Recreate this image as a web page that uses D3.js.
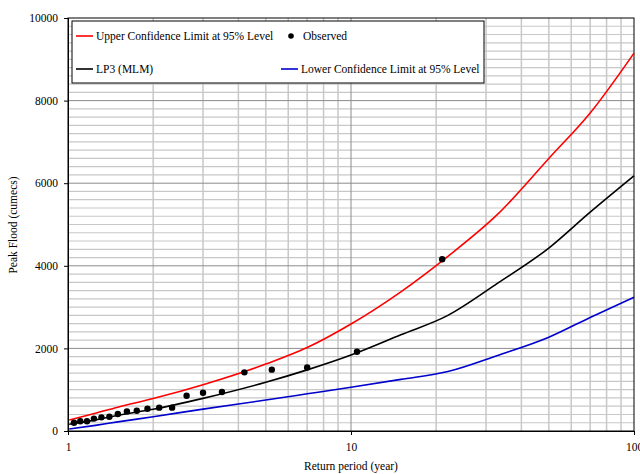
<!DOCTYPE html>
<html>
<head>
<meta charset="utf-8">
<script src="https://cdn.jsdelivr.net/npm/d3@7"></script>
<style>
  body { margin: 0; background: #fff; }
  svg { display: block; font-family: "Liberation Serif", "Times New Roman", serif; }
  .tick text { font-size: 11.5px; fill: #000; font-family: "Liberation Serif", serif; }
  .lbl { font-size: 11.5px; fill: #000; }
</style>
</head>
<body>
<svg id="chart" width="640" height="474"></svg>
<script>
// observed floods (Weibull plotting positions)
const obsT = [21, 10.5, 7, 5.25, 4.2, 3.5, 3, 2.625, 2.333, 2.1, 1.909, 1.75, 1.615, 1.5, 1.4, 1.3125, 1.235, 1.167, 1.105, 1.05]
const obsQ = [4160, 1920, 1540, 1485, 1420, 945, 925, 855, 565, 565, 540, 490, 475, 410, 345, 330, 300, 235, 235, 200]

// fitted curves
const curveT = [1.01, 1.25, 1.5, 2, 3, 5, 7, 10, 15, 22, 33, 50, 70, 100]
const lp3    = [165, 270, 380, 525, 790, 1180, 1480, 1840, 2330, 2800, 3580, 4430, 5300, 6180]
const upper  = [265, 430, 577, 785, 1120, 1620, 2020, 2590, 3370, 4230, 5250, 6600, 7700, 9150]
const lower  = [50, 137, 220, 345, 530, 750, 900, 1060, 1250, 1440, 1830, 2270, 2750, 3240]

const xTicks = [1, 10, 100]
const yTicks = [0, 2000, 4000, 6000, 8000, 10000]

const mLeft = 68, mRight = 634, mTop = 18, mBottom = 431
const svg = d3.select("#chart")
const xScale = d3.scaleLog().domain([1, 100]).range([mLeft, mRight])
const yScale = d3.scaleLinear().domain([0, 10000]).range([mBottom, mTop])

// grid
const hMinor = d3.range(200, 10000, 200).filter(v => v % 2000 != 0)
svg.append("g").selectAll("line").data(hMinor).enter().append("line")
    .attr("x1", mLeft).attr("x2", mRight)
    .attr("y1", d => yScale(d)).attr("y2", d => yScale(d))
    .attr("stroke", "#c8c8c8").attr("stroke-width", 1.2)
const vMinor = [2,3,4,5,6,7,8,9,20,30,40,50,60,70,80,90]
svg.append("g").selectAll("line").data(vMinor).enter().append("line")
    .attr("x1", d => xScale(d)).attr("x2", d => xScale(d))
    .attr("y1", mTop).attr("y2", mBottom)
    .attr("stroke", "#c8c8c8").attr("stroke-width", 1.5)
svg.append("g").selectAll("line").data(yTicks.slice(1, -1)).enter().append("line")
    .attr("x1", mLeft).attr("x2", mRight)
    .attr("y1", d => yScale(d)).attr("y2", d => yScale(d))
    .attr("stroke", "#8c8c8c").attr("stroke-width", 1)
svg.append("line")
    .attr("x1", xScale(10)).attr("x2", xScale(10))
    .attr("y1", mTop).attr("y2", mBottom)
    .attr("stroke", "#8c8c8c").attr("stroke-width", 1)

// border
svg.append("rect").attr("x", mLeft).attr("y", mTop)
    .attr("width", mRight - mLeft).attr("height", mBottom - mTop)
    .attr("fill", "none").attr("stroke", "#000").attr("stroke-width", 1)

// curves
const line = d3.line()
    .x(d => xScale(d[0])).y(d => yScale(d[1]))
    .curve(d3.curveMonotoneX)
const series = [[upper, "#ff0000"], [lp3, "#000000"], [lower, "#0000cc"]]
series.forEach(s => {
    svg.append("path")
        .datum(curveT.map((t, i) => [t, s[0][i]]))
        .attr("d", line)
        .attr("fill", "none")
        .attr("stroke", s[1])
        .attr("stroke-width", 1.6)
})

// observed
svg.append("g").selectAll("circle").data(obsT).enter().append("circle")
    .attr("cx", (d, i) => xScale(obsT[i]))
    .attr("cy", (d, i) => yScale(obsQ[i]))
    .attr("r", 3.2).attr("fill", "#000")

// axes
const x_axis = d3.axisBottom(xScale).tickValues(xTicks).tickFormat(d3.format("d")).tickSize(4).tickPadding(8)
const y_axis = d3.axisLeft(yScale).tickValues(yTicks).tickFormat(d3.format("d")).tickSize(4).tickPadding(6)
const gx = svg.append("g").attr("transform", `translate(0,${mBottom})`).call(x_axis)
const gy = svg.append("g").attr("transform", `translate(${mLeft},0)`).call(y_axis)
gx.select(".domain").attr("stroke", "#000")
gy.select(".domain").attr("stroke", "#000")
svg.selectAll(".tick text").attr("font-family", "Liberation Serif")

// axis labels
svg.append("text").attr("class", "lbl")
    .attr("x", 351).attr("y", 470).attr("text-anchor", "middle")
    .text("Return period (year)")
svg.append("text").attr("class", "lbl")
    .attr("transform", `translate(17,225) rotate(-90)`)
    .attr("text-anchor", "middle")
    .text("Peak Flood (cumecs)")

// legend
const lg = svg.append("g")
lg.append("rect").attr("x", 72).attr("y", 21).attr("width", 412).attr("height", 62)
    .attr("fill", "#fff").attr("stroke", "#000").attr("stroke-width", 1)
const legendItems = [
    {label: "Upper Confidence Limit at 95% Level", color: "#ff0000", x: 76, y: 36, dot: false},
    {label: "Observed", color: "#000", x: 283, y: 36, dot: true},
    {label: "LP3 (MLM)", color: "#000", x: 76, y: 69, dot: false},
    {label: "Lower Confidence Limit at 95% Level", color: "#0000cc", x: 281, y: 69, dot: false}
]
legendItems.forEach(it => {
    if (it.dot) {
        lg.append("circle").attr("cx", it.x + 8).attr("cy", it.y).attr("r", 2.8).attr("fill", "#000")
    } else {
        lg.append("line").attr("x1", it.x).attr("x2", it.x + 17)
            .attr("y1", it.y).attr("y2", it.y)
            .attr("stroke", it.color).attr("stroke-width", 1.6)
    }
    lg.append("text").attr("class", "lbl")
        .attr("x", it.x + 20).attr("y", it.y + 4)
        .text(it.label)
})
</script>
</body>
</html>
